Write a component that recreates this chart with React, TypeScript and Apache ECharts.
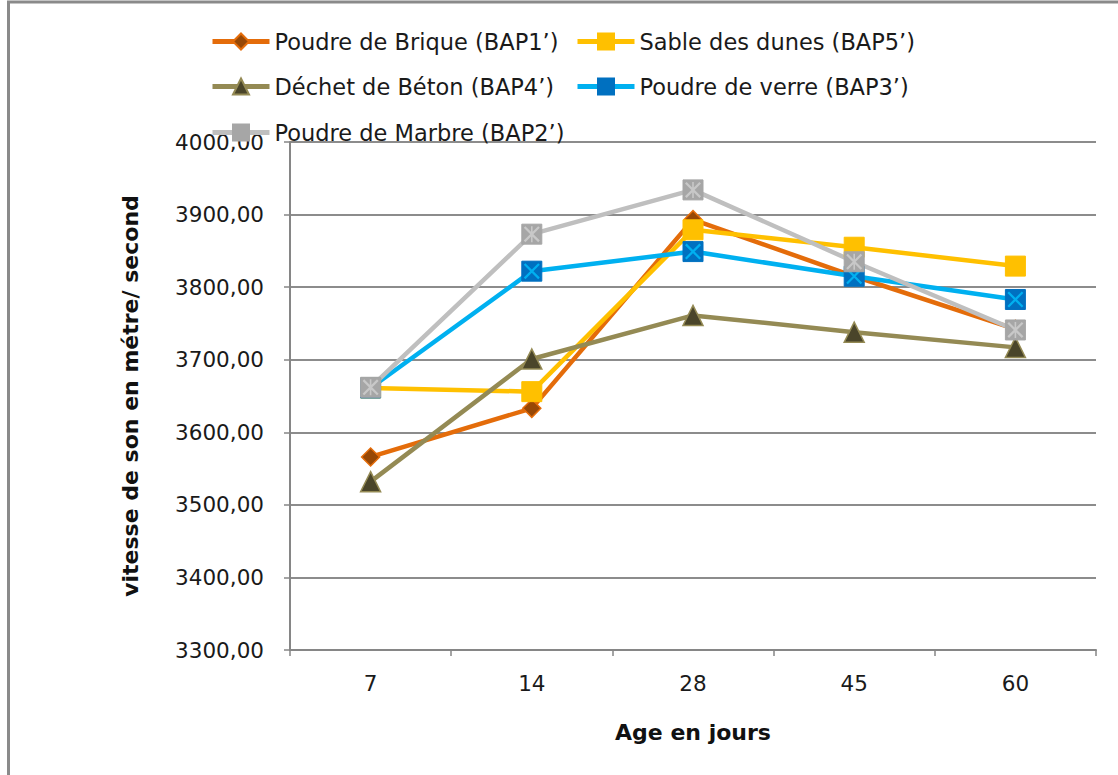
import React, { useEffect, useRef } from "react";
import * as echarts from "echarts";

const categories = ["7", "14", "28", "45", "60"];
const yTicks = [3300, 4000, 100];

const brique = [3566, 3633, 3893, 3815, 3742];
const sable = [3661, 3656, 3879, 3855, 3829];
const beton = [3532, 3701, 3761, 3738, 3717];
const verre = [3661, 3822, 3849, 3815, 3783];
const marbre = [3662, 3873, 3934, 3835, 3741];

const names = [
  "Poudre de Brique (BAP1’)",
  "Sable des dunes (BAP5’)",
  "Déchet de Béton (BAP4’)",
  "Poudre de verre (BAP3’)",
  "Poudre de Marbre (BAP2’)",
];

const FONT = "'DejaVu Sans', 'Open Sans', sans-serif";
const X_PATH =
  "path://M0,2 L2,0 L20,18 L18,20 Z M18,0 L20,2 L2,20 L0,18 Z";
const STAR_PATH =
  "path://M0,2 L2,0 L20,18 L18,20 Z M18,0 L20,2 L2,20 L0,18 Z M9,0 L11,0 L11,20 L9,20 Z";

export default function App() {
  const ref = useRef<HTMLDivElement>(null);
  useEffect(() => {
    document.body.style.margin = "0";
    const chart = echarts.init(ref.current!, null, { renderer: "svg" });
    const lineW = 4.5;
    const legendBase = {
      itemWidth: 57,
      itemHeight: 20,
      padding: 0,
      lineStyle: { width: 5 },
      textStyle: { fontFamily: FONT, fontSize: 22.5, color: "#1a1a1a" },
      selectedMode: false,
    };
    const overlay = (data: number[], path: string, color: string, size: number) => ({
      type: "line",
      data,
      symbol: path,
      symbolSize: size,
      showSymbol: true,
      lineStyle: { opacity: 0, width: 0 },
      itemStyle: { color },
      silent: true,
    });
    chart.setOption({
      animation: false,
      backgroundColor: "#ffffff",
      graphic: [
        {
          type: "rect",
          shape: { x: 8.5, y: 2, width: 1200, height: 900 },
          style: { fill: "none", stroke: "#8a8a8a", lineWidth: 3 },
          silent: true,
        },
      ],
      legend: [
        { ...legendBase, left: 210, top: 30, data: [names[0]] },
        { ...legendBase, left: 575, top: 30, data: [names[1]] },
        { ...legendBase, left: 210, top: 75, data: [names[2]] },
        { ...legendBase, left: 575, top: 75, data: [names[3]] },
        { ...legendBase, left: 210, top: 121, data: [names[4]] },
      ],
      grid: { left: 290, right: 22, top: 142, bottom: 125, containLabel: false },
      xAxis: {
        type: "category",
        data: categories,
        boundaryGap: true,
        name: "Age en jours",
        nameLocation: "middle",
        nameGap: 71,
        nameTextStyle: { fontFamily: FONT, fontSize: 22, fontWeight: "bold", color: "#111" },
        axisLine: { lineStyle: { color: "#868686", width: 2 } },
        axisTick: { show: true, length: 6, lineStyle: { color: "#868686", width: 1.5 } },
        axisLabel: { fontFamily: FONT, fontSize: 21.5, color: "#1a1a1a", margin: 22 },
      },
      yAxis: {
        type: "value",
        min: yTicks[0],
        max: yTicks[1],
        interval: yTicks[2],
        name: "vitesse de son en métre/ second",
        nameLocation: "middle",
        nameGap: 149,
        nameRotate: 90,
        nameTextStyle: { fontFamily: FONT, fontSize: 22, fontWeight: "bold", color: "#111" },
        axisLine: { show: true, lineStyle: { color: "#868686", width: 2 } },
        axisTick: { show: true, length: 6, lineStyle: { color: "#868686", width: 1.5 } },
        axisLabel: {
          fontFamily: FONT,
          fontSize: 21.5,
          color: "#1a1a1a",
          margin: 26,
          formatter: (v: number) => v.toFixed(2).replace(".", ","),
        },
        splitLine: { lineStyle: { color: "#8c8c8c", width: 2 } },
      },
      series: [
        {
          name: names[0],
          type: "line",
          data: brique,
          symbol: "diamond",
          symbolSize: 18,
          lineStyle: { color: "#E46C0A", width: lineW },
          itemStyle: { color: "#974806", borderColor: "#E46C0A", borderWidth: 1.5 },
        },
        {
          name: names[1],
          type: "line",
          data: sable,
          symbol: "rect",
          symbolSize: 20,
          lineStyle: { color: "#FFC000", width: lineW },
          itemStyle: { color: "#FFC000", borderColor: "#FFC000", borderWidth: 1 },
        },
        {
          name: names[2],
          type: "line",
          data: beton,
          symbol: "triangle",
          symbolSize: 20,
          lineStyle: { color: "#948A54", width: lineW },
          itemStyle: { color: "#4A452A", borderColor: "#948A54", borderWidth: 1.5 },
        },
        {
          name: names[3],
          type: "line",
          data: verre,
          symbol: "rect",
          symbolSize: 20,
          lineStyle: { color: "#00B0F0", width: lineW },
          itemStyle: { color: "#0070C0", borderColor: "#0070C0", borderWidth: 1 },
        },
        overlay(verre, X_PATH, "#00B0F0", 16),
        {
          name: names[4],
          type: "line",
          data: marbre,
          symbol: "rect",
          symbolSize: 20,
          lineStyle: { color: "#BFBFBF", width: lineW },
          itemStyle: { color: "#A6A6A6", borderColor: "#A6A6A6", borderWidth: 1 },
        },
        overlay(marbre, STAR_PATH, "#C8C8C8", 16),
      ],
    });
    return () => chart.dispose();
  }, []);
  return <div ref={ref} style={{ width: 1118, height: 775 }} />;
}
